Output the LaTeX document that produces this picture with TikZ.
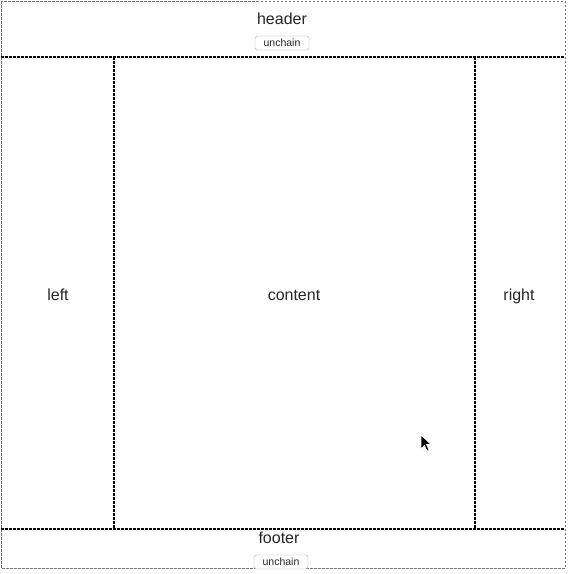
\documentclass[tikz,border=0pt]{standalone}
\usepackage{fontspec}
\setmainfont{Liberation Sans}
\begin{document}
\begin{tikzpicture}[x=1pt,y=-1pt,
  outer/.style={draw=black!55,line width=0.8pt,dash pattern=on 2.5pt off 1.5pt},
  divider/.style={draw=black,line width=1.4pt,dash pattern=on 2.5pt off 1.5pt},
  label/.style={font=\fontsize{16}{18}\selectfont,text=black!85,text height=1.6ex,text depth=0.3ex,inner sep=0pt},
  btn/.style={draw=black!35,fill=white,rounded corners=2.5pt,minimum width=54pt,minimum height=14pt,inner sep=0pt,font=\fontsize{10.5}{11}\selectfont,text=black!85}]
\useasboundingbox (0,0) rectangle (568,574);
\fill[white] (0,0) rectangle (568,574);
\draw[outer] (1,1) rectangle (565,568);
\coordinate (hl) at (1,57);
\coordinate (hr) at (565,57);
\coordinate (fl) at (1,529);
\coordinate (fr) at (565,529);
\coordinate (lt) at (114,57);
\coordinate (lb) at (114,529);
\coordinate (rt) at (475,57);
\coordinate (rb) at (475,529);
\draw[divider] (hl) -- (hr);
\draw[divider] (fl) -- (fr);
\draw[divider] (lt) -- (lb);
\draw[divider] (rt) -- (rb);
\node[label] (header) at (282,21) {header};
\node[btn] (hbtn) at (282,43) {unchain};
\node[label] (left) at (58,297) {left};
\node[label] (content) at (294,297) {content};
\node[label] (right) at (519,297) {right};
\node[label] (footer) at (279,540) {footer};
\node[btn] (fbtn) at (281,562) {unchain};
\fill[black,draw=white,line width=0.6pt] (421,435) -- (421,449) -- (424.5,445.5) -- (427,451) -- (429,450) -- (426.5,444.5) -- (431,444.5) -- cycle;
\end{tikzpicture}
\end{document}
